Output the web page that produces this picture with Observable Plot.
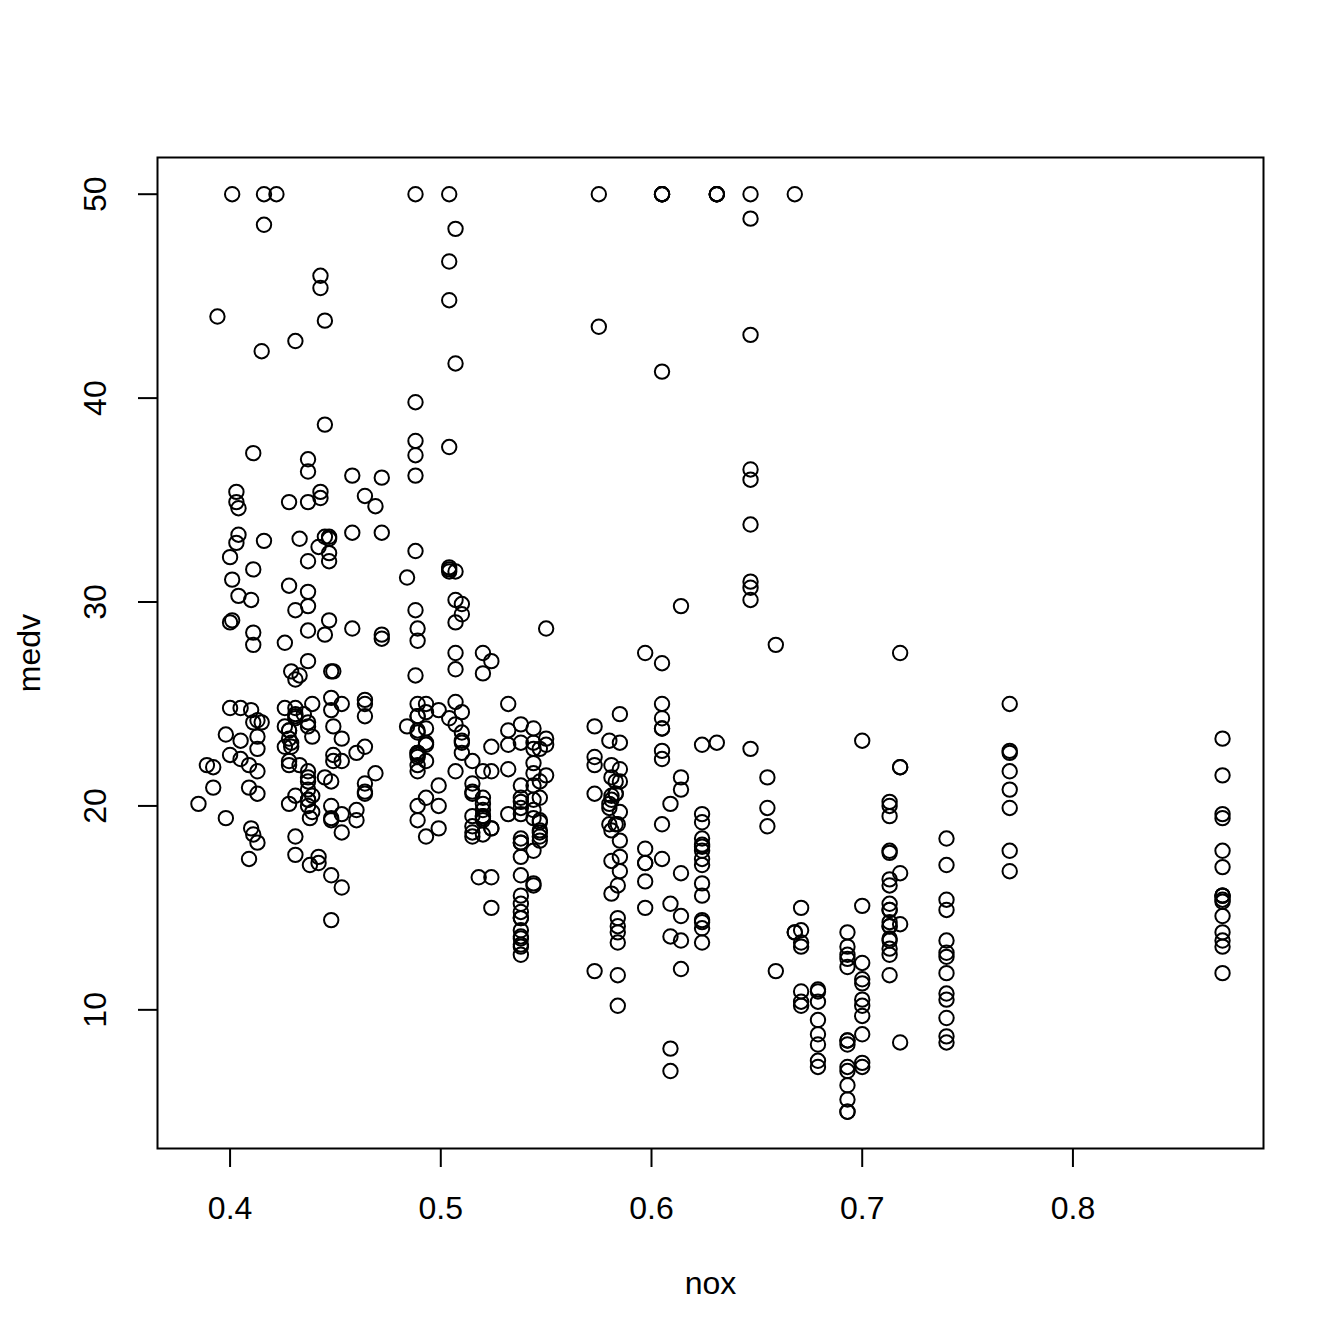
<!DOCTYPE html>
<html>
<head>
<meta charset="utf-8">
<script src="https://cdn.jsdelivr.net/npm/d3@7"></script>
<script src="https://cdn.jsdelivr.net/npm/@observablehq/plot@0.6"></script>
<style>
  html, body { margin: 0; padding: 0; background: #ffffff; }
  #chart svg { display: block; }
</style>
</head>
<body>
<div id="chart"></div>
<script>
// nitrogen oxides concentration (x) for each observation
const nox = [
  0.538,0.469,0.469,0.458,0.458,0.458,0.524,0.524,0.524,0.524,
  0.524,0.524,0.524,0.538,0.538,0.538,0.538,0.538,0.538,0.538,
  0.538,0.538,0.538,0.538,0.538,0.538,0.538,0.538,0.538,0.538,
  0.538,0.538,0.538,0.538,0.538,0.499,0.499,0.499,0.499,0.428,
  0.428,0.448,0.448,0.448,0.448,0.448,0.448,0.448,0.448,0.448,
  0.439,0.439,0.439,0.439,0.41,0.403,0.41,0.411,0.453,0.453,
  0.453,0.453,0.453,0.453,0.4161,0.398,0.398,0.409,0.409,0.409,
  0.413,0.413,0.413,0.413,0.437,0.437,0.437,0.437,0.437,0.437,
  0.426,0.426,0.426,0.426,0.449,0.449,0.449,0.449,0.489,0.489,
  0.489,0.489,0.464,0.464,0.464,0.445,0.445,0.445,0.445,0.445,
  0.52,0.52,0.52,0.52,0.52,0.52,0.52,0.52,0.52,0.52,
  0.52,0.547,0.547,0.547,0.547,0.547,0.547,0.547,0.547,0.547,
  0.581,0.581,0.581,0.581,0.581,0.581,0.581,0.624,0.624,0.624,
  0.624,0.624,0.624,0.624,0.624,0.624,0.624,0.624,0.624,0.624,
  0.624,0.624,0.871,0.871,0.871,0.871,0.871,0.871,0.871,0.871,
  0.871,0.871,0.871,0.871,0.871,0.871,0.871,0.605,0.605,0.871,
  0.605,0.605,0.605,0.605,0.605,0.605,0.605,0.605,0.605,0.605,
  0.605,0.605,0.51,0.51,0.51,0.51,0.51,0.51,0.51,0.488,
  0.488,0.488,0.488,0.488,0.488,0.488,0.488,0.437,0.437,0.437,
  0.437,0.437,0.437,0.401,0.401,0.422,0.404,0.404,0.404,0.403,
  0.403,0.415,0.415,0.4161,0.4161,0.489,0.489,0.489,0.489,0.489,
  0.489,0.489,0.489,0.489,0.489,0.489,0.55,0.55,0.55,0.55,
  0.507,0.507,0.507,0.507,0.504,0.504,0.504,0.504,0.504,0.504,
  0.504,0.504,0.507,0.507,0.507,0.507,0.507,0.507,0.428,0.428,
  0.428,0.428,0.428,0.428,0.431,0.431,0.431,0.431,0.431,0.431,
  0.431,0.431,0.431,0.431,0.392,0.392,0.394,0.647,0.647,0.647,
  0.647,0.647,0.647,0.647,0.647,0.647,0.647,0.575,0.575,0.464,
  0.464,0.464,0.464,0.464,0.447,0.447,0.447,0.447,0.447,0.4429,
  0.4429,0.4429,0.4429,0.401,0.4,0.389,0.385,0.405,0.405,0.405,
  0.411,0.411,0.411,0.437,0.437,0.437,0.437,0.437,0.4,0.4,
  0.4,0.433,0.433,0.433,0.472,0.472,0.472,0.472,0.544,0.544,
  0.544,0.544,0.544,0.544,0.544,0.544,0.544,0.544,0.544,0.544,
  0.493,0.493,0.493,0.493,0.493,0.493,0.493,0.493,0.46,0.46,
  0.46,0.4379,0.4379,0.515,0.515,0.515,0.515,0.515,0.515,0.515,
  0.515,0.442,0.518,0.484,0.484,0.442,0.442,0.429,0.435,0.429,
  0.429,0.411,0.411,0.41,0.413,0.413,0.77,0.77,0.77,0.77,
  0.77,0.77,0.77,0.77,0.718,0.718,0.718,0.631,0.631,0.631,
  0.631,0.631,0.668,0.668,0.668,0.671,0.671,0.671,0.671,0.671,
  0.671,0.671,0.7,0.7,0.7,0.7,0.7,0.7,0.7,0.7,
  0.7,0.7,0.7,0.693,0.693,0.693,0.693,0.693,0.693,0.693,
  0.693,0.693,0.693,0.693,0.693,0.693,0.659,0.659,0.597,0.597,
  0.597,0.597,0.597,0.597,0.693,0.679,0.679,0.679,0.679,0.718,
  0.718,0.718,0.614,0.614,0.584,0.679,0.584,0.679,0.679,0.679,
  0.584,0.584,0.584,0.713,0.713,0.74,0.74,0.74,0.74,0.74,
  0.74,0.74,0.74,0.74,0.74,0.74,0.74,0.74,0.713,0.713,
  0.713,0.713,0.713,0.713,0.713,0.713,0.713,0.713,0.713,0.713,
  0.713,0.713,0.713,0.713,0.655,0.655,0.655,0.584,0.58,0.58,
  0.58,0.532,0.58,0.614,0.584,0.584,0.614,0.614,0.614,0.614,
  0.532,0.532,0.532,0.532,0.583,0.583,0.583,0.583,0.609,0.609,
  0.609,0.609,0.609,0.585,0.585,0.585,0.585,0.585,0.585,0.585,
  0.585,0.573,0.573,0.573,0.573,0.573
];

// median home value (y) for each observation
const medv = [
  24.0,21.6,34.7,33.4,36.2,28.7,22.9,27.1,16.5,18.9,
  15.0,18.9,21.7,20.4,18.2,19.9,23.1,17.5,20.2,18.2,
  13.6,19.6,15.2,14.5,15.6,13.9,16.6,14.8,18.4,21.0,
  12.7,14.5,13.2,13.1,13.5,18.9,20.0,21.0,24.7,30.8,
  34.9,26.6,25.3,24.7,21.2,19.3,20.0,16.6,14.4,19.4,
  19.7,20.5,25.0,23.4,18.9,35.4,24.7,31.6,23.3,19.6,
  18.7,16.0,22.2,25.0,33.0,23.5,19.4,22.0,17.4,20.9,
  24.2,21.7,22.8,23.4,24.1,21.4,20.0,20.8,21.2,20.3,
  28.0,23.9,24.8,22.9,23.9,26.6,22.5,22.2,23.6,28.7,
  22.6,22.0,22.9,25.0,20.6,28.4,21.4,38.7,43.8,33.2,
  27.5,26.5,18.6,19.3,20.1,19.5,19.5,20.4,19.8,19.4,
  21.7,22.8,18.8,18.7,18.5,18.3,21.2,19.2,20.4,19.3,
  22.0,20.3,20.5,17.3,18.8,21.4,15.7,16.2,18.0,14.3,
  19.2,19.6,23.0,18.4,15.6,18.1,17.4,17.1,13.3,17.8,
  14.0,14.4,13.4,15.6,11.8,13.8,15.6,14.6,17.8,15.4,
  21.5,19.6,15.3,19.4,17.0,15.6,13.1,41.3,24.3,23.3,
  27.0,50.0,50.0,50.0,22.7,25.0,50.0,23.8,23.8,22.3,
  17.4,19.1,23.1,23.6,22.6,29.4,23.2,24.6,29.9,37.2,
  39.8,36.2,37.9,32.5,26.4,29.6,50.0,32.0,29.8,34.9,
  37.0,30.5,36.4,31.1,29.1,50.0,33.3,30.3,34.6,34.9,
  32.9,24.1,42.3,48.5,50.0,22.6,24.4,22.5,24.4,20.0,
  21.7,19.3,22.4,28.1,23.7,25.0,23.3,28.7,21.5,23.0,
  26.7,21.7,27.5,30.1,44.8,50.0,37.6,31.6,46.7,31.5,
  24.3,31.7,41.7,48.3,29.0,24.0,25.1,31.5,23.7,23.3,
  22.0,20.1,22.2,23.7,17.6,18.5,24.3,20.5,24.5,26.2,
  24.4,24.8,29.6,42.8,21.9,20.9,44.0,50.0,36.0,30.1,
  33.8,43.1,48.8,31.0,36.5,22.8,30.7,50.0,43.5,20.7,
  21.1,25.2,24.4,35.2,32.4,32.0,33.2,33.1,29.1,35.1,
  45.4,35.4,46.0,50.0,32.2,22.0,20.1,23.2,22.3,24.8,
  28.5,37.3,27.9,23.9,21.7,28.6,27.1,20.3,22.5,29.0,
  24.8,22.0,26.4,33.1,36.1,28.4,33.4,28.2,22.8,20.3,
  16.1,22.1,19.4,21.6,23.8,16.2,17.8,19.8,23.1,21.0,
  23.8,23.1,20.4,18.5,25.0,24.6,23.0,22.2,19.3,22.6,
  19.8,17.1,19.4,22.2,20.7,21.1,19.5,18.5,20.6,19.0,
  18.7,32.7,16.5,23.9,31.2,17.5,17.2,23.1,24.5,26.6,
  22.9,24.1,18.6,30.1,18.2,20.6,17.8,21.7,22.7,22.6,
  25.0,19.9,20.8,16.8,21.9,27.5,21.9,23.1,50.0,50.0,
  50.0,50.0,50.0,13.8,13.8,15.0,13.9,13.3,13.1,10.2,
  10.4,10.9,11.3,12.3,8.8,7.2,10.5,7.4,10.2,11.5,
  15.1,23.2,9.7,13.8,12.7,13.1,12.5,8.5,5.0,6.3,
  5.6,7.2,12.1,8.3,8.5,5.0,11.9,27.9,17.2,27.5,
  15.0,17.2,17.9,16.3,7.0,7.2,7.5,10.4,8.8,8.4,
  16.7,14.2,20.8,13.4,11.7,8.3,10.2,10.9,11.0,9.5,
  14.5,14.1,16.1,14.3,11.7,13.4,9.6,8.7,8.4,12.8,
  10.5,17.1,18.4,15.4,10.8,11.8,14.9,12.6,14.1,13.0,
  13.4,15.2,16.1,17.8,14.9,14.1,12.7,13.5,14.9,20.0,
  16.4,17.7,19.5,20.2,21.4,19.9,19.0,19.1,19.1,20.1,
  19.9,19.6,23.2,29.8,13.8,13.3,16.7,12.0,14.6,21.4,
  23.0,23.7,25.0,21.8,20.6,21.2,19.1,20.6,15.2,7.0,
  8.1,13.6,20.1,21.8,24.5,23.1,19.7,18.3,21.2,17.5,
  16.8,22.4,20.6,23.9,22.0,11.9
];

const xTicks = [0.4, 0.5, 0.6, 0.7, 0.8];
const yTicks = [10, 20, 30, 40, 50];
const xTitle = ["nox"];
const yTitle = ["medv"];

const data = nox.map((v, i) => ({nox: v, medv: medv[i]}));

// R-style 4% range extension
const xExt = d3.extent(nox), yExt = d3.extent(medv);
const xPad = (xExt[1] - xExt[0]) * 0.04, yPad = (yExt[1] - yExt[0]) * 0.04;

const font = "'Liberation Sans', Arial, Helvetica, sans-serif";

const chart = Plot.plot({
  width: 1344,
  height: 1344,
  marginLeft: 157,
  marginRight: 81,
  marginTop: 157,
  marginBottom: 196,
  style: {background: "#ffffff", fontFamily: font, fontSize: "32px", color: "#000"},
  x: {domain: [xExt[0] - xPad, xExt[1] + xPad]},
  y: {domain: [yExt[0] - yPad, yExt[1] + yPad]},
  marks: [
    Plot.axisX({ticks: xTicks, tickSize: 19, tickPadding: 29, strokeWidth: 2,
      tickFormat: d => d.toFixed(1), fontSize: 32, label: null, stroke: "#000", fill: "#000"}),
    Plot.axisY({ticks: yTicks, tickSize: 19, strokeWidth: 2,
      tickFormat: () => "", label: null, stroke: "#000"}),
    Plot.text(yTicks, {y: d => d, frameAnchor: "left", dx: -62, rotate: -90,
      text: d => String(d), fontSize: 32, textAnchor: "middle", lineAnchor: "middle", fill: "#000"}),
    Plot.text(xTitle, {frameAnchor: "bottom", dy: 135, text: d => d,
      fontSize: 32, textAnchor: "middle", lineAnchor: "middle", fill: "#000"}),
    Plot.text(yTitle, {frameAnchor: "left", dx: -128, rotate: -90, text: d => d,
      fontSize: 32, textAnchor: "middle", lineAnchor: "middle", fill: "#000"}),
    Plot.frame({stroke: "#000", strokeWidth: 2}),
    Plot.dot(data, {x: "nox", y: "medv", r: 7.2, stroke: "#000", strokeWidth: 2, fill: "none"})
  ]
});

document.getElementById("chart").appendChild(chart);
</script>
</body>
</html>
